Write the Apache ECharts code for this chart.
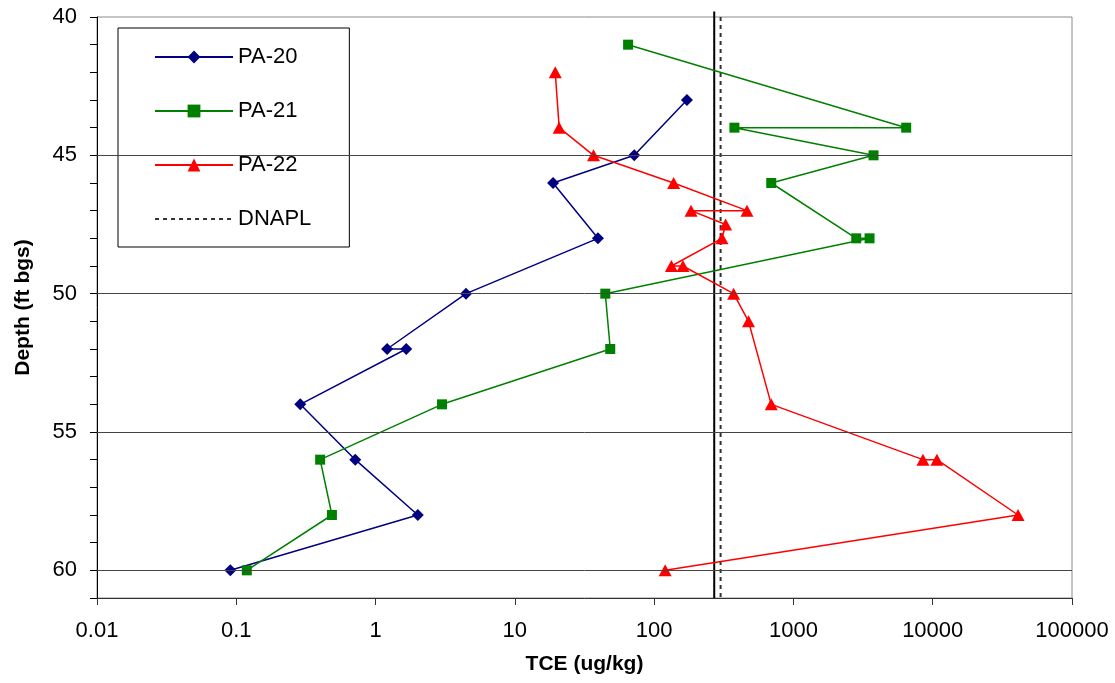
<!DOCTYPE html>
<html>
<head>
<meta charset="utf-8">
<script src="https://cdn.jsdelivr.net/npm/echarts@6/dist/echarts.min.js"></script>
<style>
  html, body { margin: 0; padding: 0; background: #fff; }
  #chart { width: 1115px; height: 683px; }
</style>
</head>
<body>
<div id="chart"></div>
<script>
// depth (ft bgs) / TCE (ug/kg), in sampling order
const pa20Depth = [43, 45, 46, 48, 50, 52, 52, 54, 56, 58, 60]
const pa20Tce = [172, 72, 18.8, 39.5, 4.46, 1.21, 1.66, 0.288, 0.715, 2.01, 0.0906]

const pa21Depth = [41, 44, 44, 45, 46, 48, 48, 50, 52, 54, 56, 58, 60]
const pa21Tce = [65, 6450, 377, 3760, 693, 2825, 3520, 44.6, 48.4, 3.0, 0.40, 0.486, 0.119]

const pa22Depth = [42, 44, 45, 46, 47, 47, 47.5, 48, 49, 49, 50, 51, 54, 56, 56, 58, 60]
const pa22Tce = [19.5, 20.8, 36.7, 138, 464, 184, 326, 307, 133, 161, 372, 476, 693, 8510, 10720, 41000, 120]

// vertical reference lines
const dnaplTce = 300
const solidTce = 270
const gridDepths = [45, 50, 55, 60]

const font = ['Liberation Sans', 'Arial', 'sans-serif']

function pairs(xs, ys) {
  return xs.map((x, i) => [x, ys[i]])
}

const chart = echarts.init(document.getElementById('chart'))

const option = {
  animation: false,
  backgroundColor: '#fff',
  grid: {
    left: 97,
    right: 43,
    top: 17,
    bottom: 85,
    show: true,
    borderColor: '#8a8a8a',
    borderWidth: 1,
  },
  legend: {
    orient: 'vertical',
    left: 118,
    top: 28,
    data: ['PA-20', 'PA-21', 'PA-22', { name: 'DNAPL', itemStyle: { opacity: 0 } }],
    itemWidth: 78,
    itemHeight: 16,
    itemGap: 32,
    padding: [18, 38, 17, 36],
    backgroundColor: '#fff',
    borderColor: '#000',
    borderWidth: 1,
    textStyle: {
      color: '#000',
      fontSize: 22,
      lineHeight: 22,
      fontFamily: font,
    },
  },
  xAxis: {
    type: 'log',
    logBase: 10,
    min: 0.01,
    max: 100000,
    name: 'TCE (ug/kg)',
    nameLocation: 'middle',
    nameGap: 56,
    nameTextStyle: {
      color: '#000',
      fontSize: 21,
      fontWeight: 'bold',
      fontFamily: font,
    },
    axisLine: { lineStyle: { color: '#333', width: 1 } },
    axisTick: { show: true, length: 7, lineStyle: { color: '#333' } },
    minorTick: { show: false },
    splitLine: { show: false },
    axisLabel: {
      color: '#000',
      fontSize: 22,
      fontFamily: font,
      margin: 22,
      formatter: (v) => String(v),
    },
  },
  yAxis: {
    type: 'value',
    inverse: true,
    min: 40,
    max: 61,
    interval: 1,
    name: 'Depth (ft bgs)',
    nameLocation: 'middle',
    nameGap: 63,
    nameTextStyle: {
      color: '#000',
      fontSize: 21,
      fontWeight: 'bold',
      fontFamily: font,
    },
    axisLine: { show: true, lineStyle: { color: '#000', width: 1 } },
    axisTick: { show: true, length: 7, lineStyle: { color: '#000' } },
    splitLine: { show: false },
    axisLabel: {
      color: '#000',
      fontSize: 22,
      fontFamily: font,
      margin: 20,
      formatter: (v) => (v % 5 === 0 ? String(v) : ''),
    },
  },
  series: [
    {
      name: 'ref',
      type: 'line',
      data: [[solidTce, 39.8], [solidTce, 61]],
      symbol: 'none',
      clip: false,
      silent: true,
      z: 1,
      lineStyle: { color: '#000', width: 2 },
      markLine: {
        silent: true,
        symbol: 'none',
        label: { show: false },
        lineStyle: { color: '#444', width: 1, type: 'solid' },
        data: gridDepths.map((d) => ({ yAxis: d })),
      },
    },
    {
      name: 'DNAPL',
      type: 'line',
      data: [[dnaplTce, 40], [dnaplTce, 61]],
      symbol: 'none',
      silent: true,
      z: 1,
      lineStyle: { color: '#333', width: 2, type: [4, 4] },
    },
    {
      name: 'PA-20',
      type: 'line',
      data: pairs(pa20Tce, pa20Depth),
      symbol: 'diamond',
      symbolSize: 12,
      color: '#000080',
      lineStyle: { width: 1.5 },
    },
    {
      name: 'PA-21',
      type: 'line',
      data: pairs(pa21Tce, pa21Depth),
      symbol: 'rect',
      symbolSize: 10,
      color: '#008000',
      lineStyle: { width: 1.5 },
    },
    {
      name: 'PA-22',
      type: 'line',
      data: pairs(pa22Tce, pa22Depth),
      symbol: 'triangle',
      symbolSize: [13, 12],
      color: '#ff0000',
      lineStyle: { width: 1.5 },
    },
  ],
}

chart.setOption(option)
</script>
</body>
</html>
